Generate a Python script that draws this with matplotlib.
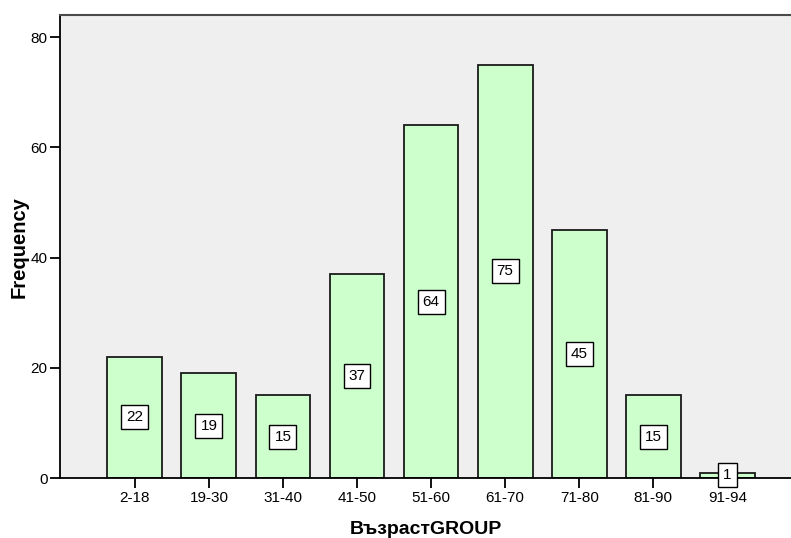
import matplotlib
matplotlib.use("Agg")
import matplotlib.pyplot as plt

plt.rcParams['font.family'] = ['Liberation Sans', 'DejaVu Sans']

categories = ["2-18", "19-30", "31-40", "41-50", "51-60", "61-70", "71-80", "81-90", "91-94"]
counts = [22, 19, 15, 37, 64, 75, 45, 15, 1]
y_ticks = [0, 20, 40, 60, 80]

fig = plt.figure(figsize=(7.91, 5.38), dpi=100)
ax = fig.add_axes([0.0759, 0.1115, 0.9241, 0.8606])
ax.set_facecolor("#EFEFEF")

x = list(range(len(categories)))
ax.bar(x, counts, width=0.74, color="#CCFFCC", edgecolor="#1a1a1a", linewidth=1.3, zorder=2)

for xi, c in zip(x, counts):
    ax.text(xi, c / 2, str(c), ha="center", va="center", fontsize=11, zorder=3,
            bbox=dict(boxstyle="square,pad=0.33", facecolor="white", edgecolor="black", linewidth=1))

ax.set_xlim(-1.01, 8.86)
ax.set_ylim(0, 84)
ax.set_xticks(x)
ax.set_xticklabels(categories)
ax.set_yticks(y_ticks)
ax.tick_params(axis="both", labelsize=11, length=7, width=1.3, pad=2, direction="out", color="black")

for side in ["left", "bottom"]:
    ax.spines[side].set_linewidth(1.3)
    ax.spines[side].set_color("black")
ax.spines["top"].set_color("#4a4a4a")
ax.spines["top"].set_linewidth(1.5)
ax.spines["right"].set_visible(False)

ax.set_xlabel("ВъзрастGROUP", fontsize=14, fontweight="bold", labelpad=12)
fig.text(19 / 791, 1 - 247 / 538, "Frequency", rotation=90, ha="center", va="center",
         fontsize=14.5, fontweight="bold")

fig.savefig("out.png", dpi=100)
